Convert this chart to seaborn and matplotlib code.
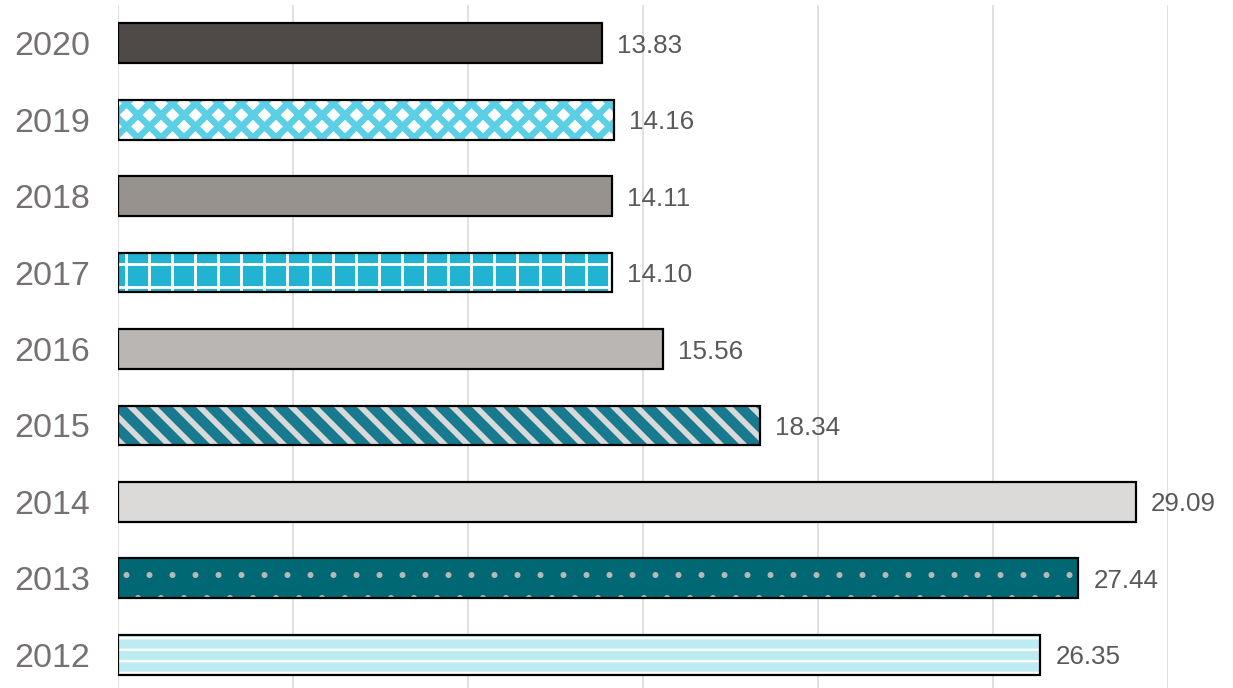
import matplotlib
matplotlib.use("Agg")
import matplotlib.pyplot as plt
import seaborn as sns
import pandas as pd

years = ["2020", "2019", "2018", "2017", "2016", "2015", "2014", "2013", "2012"]
values = [13.83, 14.16, 14.11, 14.10, 15.56, 18.34, 29.09, 27.44, 26.35]

fill_colors = ["#4F4A47", "#FFFFFF", "#97928E", "#22B3D3", "#BAB6B3",
               "#187A8E", "#DCDAD8", "#006873", "#BDEBF2"]
hatch_colors = [None, "#5BCFE6", None, "#FFFFFF", None,
                "#D9D9D9", None, "#B8B8B8", "#FFFFFF"]
hatches = [None, "xx", None, "+", None, "\\\\", None, ".", "--"]
hatch_widths = [0, 3.4, 0, 1.5, 0, 3.0, 0, 0.7, 1.2]

DPI = 138  # hatch cells are dpi/6 pixels wide


def px(v):
    """Convert a size in pixels to points at the output resolution."""
    return v * 72.0 / DPI


sns.set_theme(style="white")
plt.rcParams["font.family"] = ["Liberation Sans", "DejaVu Sans"]

df = pd.DataFrame({"year": years, "value": values})

fig = plt.figure(figsize=(1233 / DPI, 688 / DPI), dpi=DPI)
ax = fig.add_axes([118 / 1233, -5 / 688, 1050 / 1233, 1.0])

sns.barplot(data=df, x="value", y="year", hue="year", order=years,
            palette=dict(zip(years, fill_colors)), legend=False, saturation=1,
            width=0.52, edgecolor="none", linewidth=0, ax=ax, zorder=2)

# pattern overlays, black outlines and value labels for each bar
for patch, hatch, hcolor, hw in zip(list(ax.patches), hatches, hatch_colors,
                                    hatch_widths):
    x, y = patch.get_x(), patch.get_y()
    w, h = patch.get_width(), patch.get_height()
    if hatch:
        with plt.rc_context({"hatch.linewidth": hw}):
            ax.barh(y + h / 2, w, height=h, left=x, facecolor="none",
                    edgecolor=hcolor, hatch=hatch, linewidth=0, zorder=3)
    ax.barh(y + h / 2, w, height=h, left=x, facecolor="none",
            edgecolor="black", linewidth=px(2.2), zorder=4)
    ax.text(x + w + 0.43, y + h / 2, f"{w:.2f}", va="center_baseline",
            ha="left", fontsize=px(26), color="#595959")

ax.set_xlim(0, 30)
ax.set_ylim(8.5, -0.5)
ax.set_xticks(range(0, 31, 5))
ax.set_xticklabels([])
ax.xaxis.grid(True, color="#D9D9D9", linewidth=px(1.6), zorder=0)
ax.set_axisbelow(True)
ax.set_xlabel("")
ax.set_ylabel("")
ax.tick_params(axis="y", length=0, pad=px(28), labelsize=px(34),
               labelcolor="#767171")
ax.tick_params(axis="x", length=0)
for s in ax.spines.values():
    s.set_visible(False)

fig.savefig("out.png", dpi=DPI)
